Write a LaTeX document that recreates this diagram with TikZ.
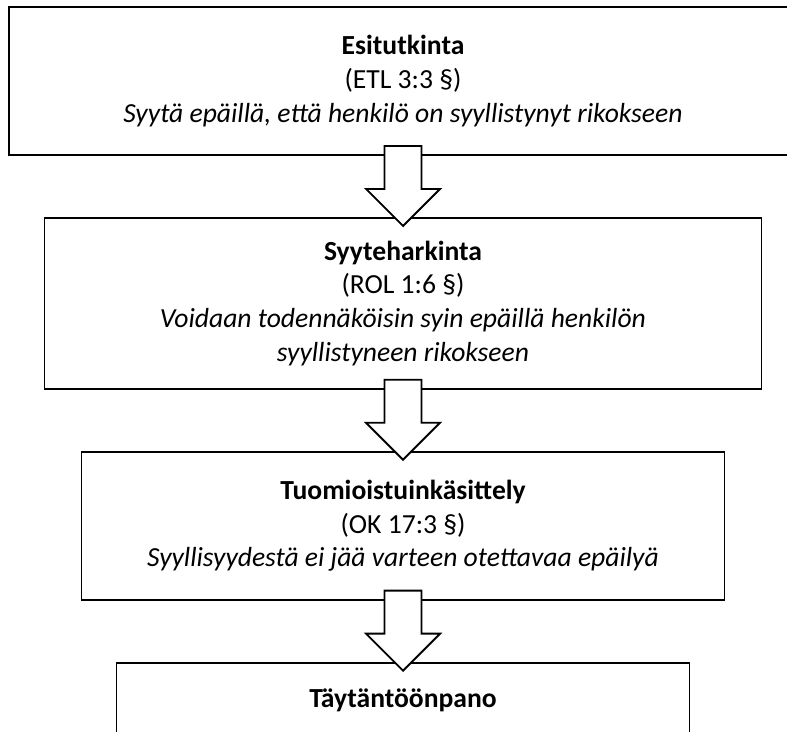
\documentclass[tikz,border=0pt]{standalone}
\usepackage{fontspec}
\setmainfont{Carlito}
\usetikzlibrary{positioning, calc}

% hollow block arrow from the bottom of one stage to the top of the next
\newcommand{\stagearrow}[2]{%
  \draw[blockarr] ($(#1.south)+(-13.9pt,7.5pt)$) -- ($(#2.north)+(-13.9pt,21pt)$)
    -- ($(#2.north)+(-27.75pt,21pt)$) -- ($(#2.north)+(0,-6.75pt)$)
    -- ($(#2.north)+(27.75pt,21pt)$) -- ($(#2.north)+(13.9pt,21pt)$)
    -- ($(#1.south)+(13.9pt,7.5pt)$) -- cycle;}

\begin{document}
\begin{tikzpicture}[
        every node/.style={font=\fontsize{20.7pt}{25.3pt}\selectfont},
        node distance=45.75pt,
        stagebox/.style={draw, line width=1.4pt, fill=white, align=center,
                         inner sep=0pt, minimum height=111pt},
        blockarr/.style={draw, line width=1.4pt, fill=white, line join=miter}
      ]
        \useasboundingbox (0,0) rectangle (590.25pt,-548.25pt);
        \clip (0,0) rectangle (590.25pt,-548.25pt);

        \node[stagebox, minimum width=591pt] (A) at (302.25pt,-60.75pt)
          {\textbf{Esitutkinta}\\(ETL 3:3 §)\\
           \textit{Syytä epäillä, että henkilö on syyllistynyt rikokseen}};
        \node[stagebox, minimum width=537.75pt, minimum height=128.25pt, below=of A] (B)
          {\textbf{Syyteharkinta}\\(ROL 1:6 §)\\
           \textit{Voidaan todennäköisin syin epäillä henkilön}\\
           \textit{syyllistyneen rikokseen}};
        \node[stagebox, minimum width=482.25pt, below=of B] (C)
          {\textbf{Tuomioistuinkäsittely}\\(OK 17:3 §)\\
           \textit{Syyllisyydestä ei jää varteen otettavaa epäilyä}};
        \node[stagebox, minimum width=429.75pt, below=of C] (D)
          {\textbf{Täytäntöönpano}\\\strut\\\strut};

        \stagearrow{A}{B}
        \stagearrow{B}{C}
        \stagearrow{C}{D}
      \end{tikzpicture}
\end{document}
